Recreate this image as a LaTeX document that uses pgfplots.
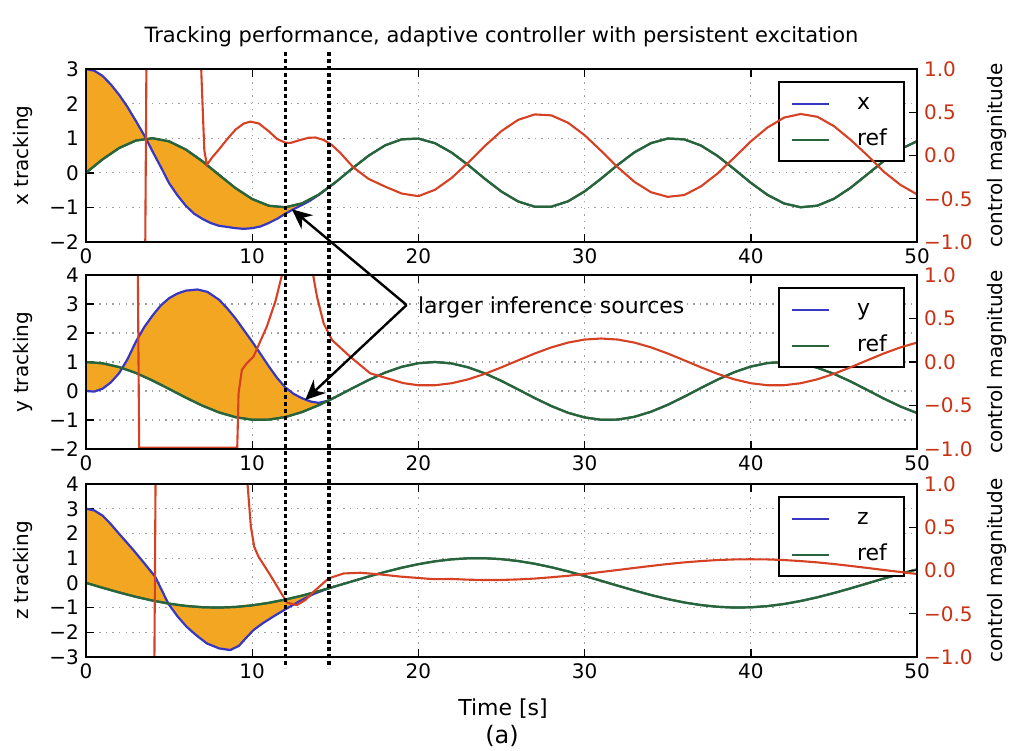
\documentclass[border=0pt]{standalone}
\usepackage{fontspec}
\setmainfont{DejaVu Sans}
\usepackage{pgfplots}
\usepackage{pgfplotstable}
\pgfplotsset{compat=1.18}
\usepgfplotslibrary{fillbetween}
\usetikzlibrary{arrows.meta}

\definecolor{xblue}{RGB}{55,55,195}
\definecolor{refgreen}{RGB}{40,100,60}
\definecolor{ctrlred}{RGB}{215,65,35}
\definecolor{tickred}{RGB}{200,50,20}
\definecolor{errfill}{RGB}{242,166,34}

% ---- x panel ----
\pgfplotstableread{
t v
0 3.00
0.5 2.95
1 2.80
1.5 2.55
2 2.25
2.5 1.90
3 1.50
3.6 1.00
4 0.62
4.5 0.17
5 -0.30
5.5 -0.65
6 -0.95
6.5 -1.18
7 -1.33
7.5 -1.45
8 -1.53
9 -1.60
9.5 -1.62
10 -1.60
10.5 -1.55
11 -1.45
11.5 -1.33
12 -1.18
12.5 -1.05
13 -0.93
13.5 -0.80
14 -0.64
14.6 -0.42
15 -0.279
}\xstate
\pgfplotstableread{
t v
0 0
1 0.389
2 0.717
3 0.932
4 1.000
5 0.909
6 0.675
7 0.335
8 -0.058
9 -0.443
10 -0.757
11 -0.952
12 -0.996
13 -0.883
14 -0.631
15 -0.279
16 0.117
17 0.494
18 0.794
19 0.968
20 0.989
21 0.855
22 0.585
23 0.223
24 -0.175
25 -0.544
26 -0.828
27 -0.981
28 -0.980
29 -0.825
30 -0.537
31 -0.166
32 0.231
33 0.592
34 0.859
35 0.991
36 0.966
37 0.789
38 0.487
39 0.108
40 -0.288
41 -0.637
42 -0.886
43 -0.996
44 -0.950
45 -0.751
46 -0.435
47 -0.049
48 0.342
49 0.682
50 0.913
}\xref
\pgfplotstableread{
t v
0 -1.5
3.55 -1.5
3.65 1.5
6.85 1.5
6.95 0.9
7.05 0.4
7.12 0.06
7.27 -0.108
7.6 -0.02
8 0.07
8.5 0.19
9 0.30
9.5 0.37
9.9 0.392
10.4 0.37
11 0.28
11.5 0.19
12 0.148
12.3 0.145
12.9 0.18
13.4 0.205
13.8 0.208
14.3 0.18
14.8 0.12
15.3 0.03
16.1 -0.14
17 -0.27
18 -0.36
19 -0.44
20 -0.470
21 -0.396
22 -0.259
23 -0.081
24 0.110
25 0.283
26 0.412
27 0.475
28 0.464
29 0.379
30 0.235
31 0.053
32 -0.137
33 -0.305
34 -0.425
35 -0.478
36 -0.457
37 -0.357
38 -0.208
39 -0.025
40 0.163
41 0.323
42 0.438
43 0.480
44 0.448
45 0.340
46 0.182
47 0.004
48 -0.187
49 -0.339
50 -0.449
}\xctrl

% ---- y panel ----
\pgfplotstableread{
t v
0 0.00
0.5 -0.02
1 0.08
1.5 0.30
2 0.62
2.5 1.10
3 1.70
3.5 2.20
4 2.60
4.5 2.95
5 3.20
5.5 3.36
6 3.46
6.7 3.50
7.3 3.42
8 3.15
8.5 2.85
9 2.50
9.5 2.10
10 1.70
10.5 1.28
11 0.85
11.5 0.45
12 0.12
12.5 -0.10
13 -0.25
13.5 -0.36
14 -0.41
14.6 -0.33
15 -0.211
}\ystate
\pgfplotstableread{
t v
0 1.000
1 0.955
2 0.825
3 0.622
4 0.362
5 0.071
6 -0.227
7 -0.505
8 -0.737
9 -0.904
10 -0.990
11 -0.987
12 -0.897
13 -0.726
14 -0.490
15 -0.211
16 0.087
17 0.378
18 0.635
19 0.835
20 0.960
21 1.000
22 0.951
23 0.815
24 0.608
25 0.347
26 0.054
27 -0.243
28 -0.519
29 -0.750
30 -0.911
31 -0.993
32 -0.985
33 -0.889
34 -0.714
35 -0.476
36 -0.195
37 0.104
38 0.393
39 0.648
40 0.844
41 0.964
42 1.000
43 0.946
44 0.803
45 0.592
46 0.330
47 0.037
48 -0.260
49 -0.533
50 -0.760
}\yref
\pgfplotstableread{
t v
0 1.5
3.1 1.5
3.2 -0.985
9.1 -0.985
9.18 -0.357
9.38 -0.09
9.68 -0.013
10.08 0.063
10.88 0.407
11.4 0.70
11.79 1.0
12.0 1.5
13.5 1.5
13.69 0.973
13.9 0.75
14.3 0.443
14.8 0.253
15.9 0.06
17.1 -0.13
19.1 -0.243
20 -0.267
21 -0.267
22 -0.244
23 -0.199
24 -0.136
25 -0.061
26 0.019
27 0.098
28 0.168
29 0.223
30 0.258
31 0.270
32 0.258
33 0.223
34 0.168
35 0.098
36 0.019
37 -0.061
38 -0.136
39 -0.199
40 -0.244
41 -0.267
42 -0.267
43 -0.244
44 -0.199
45 -0.136
46 -0.061
47 0.019
48 0.098
49 0.168
50 0.223
}\yctrl

% ---- z panel ----
\pgfplotstableread{
t v
0 3.00
0.5 2.93
1 2.72
1.45 2.41
2 1.98
2.85 1.33
3.5 0.80
4.16 0.25
4.6 -0.35
4.96 -0.85
5.5 -1.35
6.06 -1.78
6.6 -2.10
7.27 -2.45
8 -2.65
8.67 -2.72
9.2 -2.55
9.6 -2.25
10.08 -1.91
10.6 -1.65
11.3 -1.35
12.1 -1.03
12.9 -0.72
13.7 -0.45
14.6 -0.22
15 -0.141
}\zstate
\pgfplotstableread{
t v
0 0
1 -0.199
2 -0.389
3 -0.565
4 -0.717
5 -0.841
6 -0.932
7 -0.985
8 -1.000
9 -0.974
10 -0.909
11 -0.808
12 -0.675
13 -0.516
14 -0.335
15 -0.141
16 0.058
17 0.256
18 0.443
19 0.612
20 0.757
21 0.872
22 0.952
23 0.994
24 0.996
25 0.959
26 0.883
27 0.773
28 0.631
29 0.465
30 0.279
31 0.083
32 -0.116
33 -0.310
34 -0.494
35 -0.657
36 -0.794
37 -0.899
38 -0.968
39 -1.000
40 -0.989
41 -0.941
42 -0.855
43 -0.734
44 -0.585
45 -0.412
46 -0.223
47 -0.024
48 0.175
49 0.366
50 0.544
}\zref
\pgfplotstableread{
t v
0 -1.5
4.1 -1.5
4.2 1.5
9.6 1.5
9.72 1.0
9.92 0.506
10.12 0.274
10.38 0.16
11.08 -0.051
12.09 -0.371
12.69 -0.40
13.2 -0.34
13.69 -0.246
14.6 -0.091
15.5 -0.034
16.5 -0.026
17.7 -0.045
18.9 -0.07
20.9 -0.10
22 -0.098
23 -0.106
24 -0.110
25 -0.109
26 -0.103
27 -0.093
28 -0.078
29 -0.061
30 -0.040
31 -0.017
32 0.006
33 0.030
34 0.053
35 0.075
36 0.094
37 0.109
38 0.121
39 0.128
40 0.130
41 0.128
42 0.121
43 0.109
44 0.094
45 0.075
46 0.053
47 0.030
48 0.006
49 -0.017
50 -0.040
}\zctrl

\pgfplotsset{
  trackaxis/.style={
    scale only axis, width=415.5pt,
    xmin=0, xmax=50,
    xtick={0,10,20,30,40,50}, xticklabels={0,10,20,30,40,50},
    ytick pos=left,
    tick align=inside, major tick length=4pt,
    tick style={black, line width=0.7pt},
    axis line style={line width=1.4pt},
    grid=major,
    major grid style={gray!75, line width=0.55pt, dash pattern=on 0.7pt off 2.6pt},
    tick label style={font=\fontsize{10}{12}\selectfont},
    label style={font=\fontsize{10}{12}\selectfont},
    ylabel style={at={(axis description cs:-0.0758,0.5)}, anchor=center},
    legend cell align=left,
    legend style={at={(axis description cs:0.9856,0.93)}, anchor=north east,
      draw=black, line width=1.1pt, fill=white,
      inner xsep=6pt, inner ysep=3pt, row sep=2.5pt, column sep=11pt,
      font=\fontsize{11}{13}\selectfont,
      nodes={text height=8pt, text depth=2.5pt, inner sep=2.5pt}},
    legend image code/.code={\draw[#1, line width=1pt] (0pt,0pt) -- (18.5pt,0pt);},
  },
  ctrlaxis/.style={
    scale only axis, width=415.5pt,
    xmin=0, xmax=50,
    axis x line=none, axis y line*=right,
    ymin=-1, ymax=1,
    ytick={-1,-0.5,0,0.5,1},
    yticklabels={−1.0,−0.5,0.0,0.5,1.0},
    yticklabel style={text=tickred, font=\fontsize{10}{12}\selectfont},
    tick align=inside, major tick length=4pt,
    tick style={black, line width=0.7pt},
    axis line style={line width=1.4pt},
    ylabel={control magnitude},
    ylabel style={font=\fontsize{10}{12}\selectfont,
      at={(axis description cs:1.0963,0.5)}, anchor=center},
  },
  blueline/.style={xblue, line width=1.1pt},
  greenline/.style={refgreen, line width=1.1pt},
  redline/.style={ctrlred, line width=1.05pt},
}

\begin{document}
\begin{tikzpicture}

% x tracking
\begin{axis}[trackaxis, height=86.5pt, at={(0,0)}, anchor=north west,
    ymin=-2, ymax=3, ytick={-2,-1,0,1,2,3},
    yticklabels={−2,−1,0,1,2,3}, ylabel={x tracking}]
  \addplot[blueline, name path=xb] table[x=t, y=v] {\xstate};
  \addlegendentry{x}
  \addplot[greenline, name path=xr] table[x=t, y=v] {\xref};
  \addlegendentry{ref}
  \addplot[errfill, forget plot] fill between[of=xb and xr, soft clip={domain=0:15}];
  \addplot[greenline, forget plot] table[x=t, y=v] {\xref};
  \coordinate (d1) at (axis cs:12,3);
  \coordinate (d2) at (axis cs:14.6,3);
  \coordinate (tipA) at (axis cs:12.39,-1.055);
\end{axis}
\begin{axis}[ctrlaxis, height=86.5pt, at={(0,0)}, anchor=north west]
  \addplot[redline] table[x=t, y=v] {\xctrl};
  \draw[line width=1.4pt] (rel axis cs:0,0) rectangle (rel axis cs:1,1);
\end{axis}

% y tracking
\begin{axis}[trackaxis, height=87pt, at={(0,-103pt)}, anchor=north west,
    ymin=-2, ymax=4, ytick={-2,-1,0,1,2,3,4},
    yticklabels={−2,−1,0,1,2,3,4}, ylabel={y tracking}]
  \addplot[blueline, name path=yb] table[x=t, y=v] {\ystate};
  \addlegendentry{y}
  \addplot[greenline, name path=yr] table[x=t, y=v] {\yref};
  \addlegendentry{ref}
  \addplot[errfill, forget plot] fill between[of=yb and yr, soft clip={domain=0:15}];
  \addplot[greenline, forget plot] table[x=t, y=v] {\yref};
  \coordinate (tipB) at (axis cs:13.19,-0.31);
\end{axis}
\begin{axis}[ctrlaxis, height=87pt, at={(0,-103pt)}, anchor=north west]
  \addplot[redline] table[x=t, y=v] {\yctrl};
  \draw[line width=1.4pt] (rel axis cs:0,0) rectangle (rel axis cs:1,1);
\end{axis}

% z tracking
\begin{axis}[trackaxis, height=86.5pt, at={(0,-207.5pt)}, anchor=north west,
    ymin=-3, ymax=4, ytick={-3,-2,-1,0,1,2,3,4},
    yticklabels={−3,−2,−1,0,1,2,3,4}, ylabel={z tracking}]
  \addplot[blueline, name path=zb] table[x=t, y=v] {\zstate};
  \addlegendentry{z}
  \addplot[greenline, name path=zr] table[x=t, y=v] {\zref};
  \addlegendentry{ref}
  \addplot[errfill, forget plot] fill between[of=zb and zr, soft clip={domain=0:15}];
  \addplot[greenline, forget plot] table[x=t, y=v] {\zref};
\end{axis}
\begin{axis}[ctrlaxis, height=86.5pt, at={(0,-207.5pt)}, anchor=north west]
  \addplot[redline] table[x=t, y=v] {\zctrl};
  \draw[line width=1.4pt] (rel axis cs:0,0) rectangle (rel axis cs:1,1);
\end{axis}

% dotted markers across all panels
\draw[line width=1.9pt, dash pattern=on 1.75pt off 1.75pt]
  ([yshift=8.5pt]d1) -- ([yshift=-299.5pt]d1);
\draw[line width=1.9pt, dash pattern=on 1.75pt off 1.75pt]
  ([yshift=8.5pt]d2) -- ([yshift=-299.5pt]d2);

% annotation
\draw[-{Stealth[length=10pt,width=9pt]}, line width=1.2pt] (160.3pt,-118pt) -- (tipA);
\draw[-{Stealth[length=10pt,width=9pt]}, line width=1.2pt] (160.3pt,-118pt) -- (tipB);
\node[anchor=west, font=\fontsize{11}{13}\selectfont] at (162.5pt,-119pt)
  {larger inference sources};

\node[font=\fontsize{10.5}{12}\selectfont] at (207.75pt,16pt)
  {Tracking performance, adaptive controller with persistent excitation};
\node[font=\fontsize{11}{13}\selectfont] at (208.5pt,-320pt) {Time [s]};
\node[font=\fontsize{12}{14}\selectfont] at (208pt,-333.5pt) {(a)};

\pgfresetboundingbox
\path[use as bounding box] (-43pt,-340.5pt) rectangle (462pt,34.5pt);
\end{tikzpicture}
\end{document}
